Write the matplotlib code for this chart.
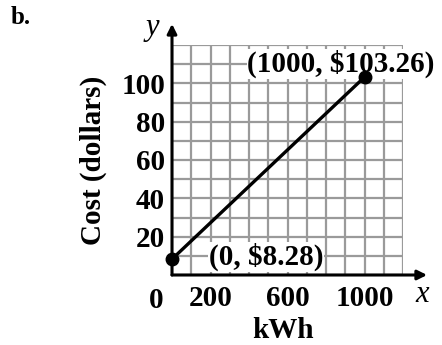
import numpy as np
import matplotlib
matplotlib.use('Agg')
import matplotlib.pyplot as plt

# data
kwh = [0, 1000]
cost = [8.28, 103.26]
point_labels = ['(0, $8.28)', '(1000, $103.26)']
label_pos = [(488, 9.3), (878, 110.2)]
xtick_vals = [200, 600, 1000]
ytick_vals = [20, 40, 60, 80, 100]

plt.rcParams['font.family'] = 'Liberation Serif'
plt.rcParams['font.weight'] = 'bold'
plt.rcParams['axes.labelweight'] = 'bold'

W, H = 442, 345
fig = plt.figure(figsize=(W/100, H/100), dpi=100)
ax = fig.add_axes([172/W, (H-275)/H, 231/W, 230/H])
ax.set_xlim(0, 1200)
ax.set_ylim(0, 120)
for s in ax.spines.values():
    s.set_visible(False)

# grid every 100 kWh / $10, labels only on some lines
xg = np.arange(0, 1201, 100)
yg = np.arange(0, 121, 10)
ax.set_xticks(xg)
ax.set_xticklabels([str(v) if v in xtick_vals else '' for v in xg])
ax.set_yticks(yg)
ax.set_yticklabels([str(v) if v in ytick_vals else '' for v in yg])
ax.grid(color='#9a9a9a', lw=1.6)
ax.tick_params(length=0)
ax.tick_params(axis='x', pad=7, labelsize=21)
ax.tick_params(axis='y', pad=5, labelsize=21)
ax.set_axisbelow(True)

# axes with arrows
ax.annotate('', xy=(1325, 0), xytext=(0, 0), annotation_clip=False,
            arrowprops=dict(arrowstyle='-|>', color='black', lw=2.2, mutation_scale=14, shrinkA=0, shrinkB=0))
ax.annotate('', xy=(0, 131), xytext=(0, 0), annotation_clip=False,
            arrowprops=dict(arrowstyle='-|>', color='black', lw=2.2, mutation_scale=14, shrinkA=0, shrinkB=0))

ax.plot(kwh, cost, color='black', lw=2.4, marker='o', ms=9, clip_on=False, zorder=5)

for txt, (x, y) in zip(point_labels, label_pos):
    ax.text(x, y, txt, fontsize=21, ha='center', va='center', zorder=4,
            bbox=dict(facecolor='white', edgecolor='none', pad=0.5))

ax.text(-80, -6.5, '0', fontsize=21, ha='center', va='top')
ax.text(1300, -10, 'x', fontsize=22, style='italic', weight='normal', ha='center', va='center')
ax.text(-100, 129, 'y', fontsize=22, style='italic', weight='normal', ha='center', va='center')

ax.set_xlabel('kWh', fontsize=21)
ax.xaxis.label.set_va('center')
ax.xaxis.set_label_coords((283-172)/231, (275-330)/230)
ax.set_ylabel('Cost (dollars)', fontsize=21)
ax.yaxis.label.set_va('center')
ax.yaxis.set_label_coords((93-172)/231, (275-160)/230)

fig.text(21/W, (H-18)/H, 'b.', fontsize=18, ha='center', va='center')

fig.savefig('out.png', dpi=100)
